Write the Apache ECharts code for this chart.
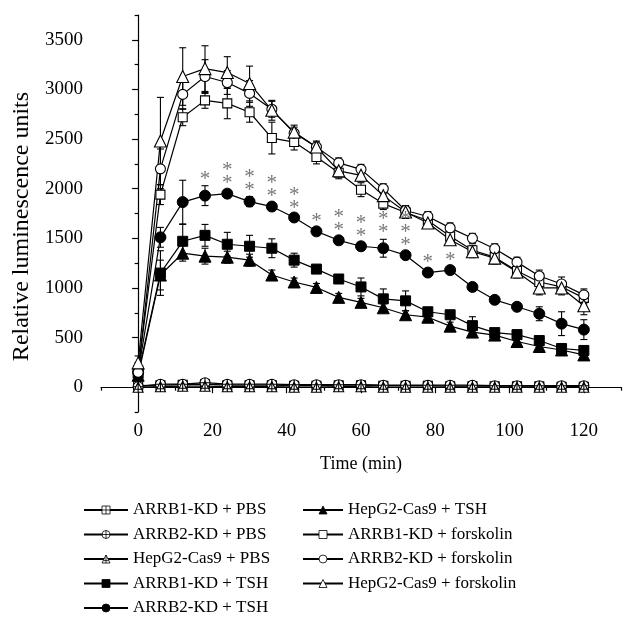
<!DOCTYPE html>
<html>
<head>
<meta charset="utf-8">
<script src="https://cdn.jsdelivr.net/npm/echarts@6/dist/echarts.min.js"></script>
<style>html,body{margin:0;padding:0;background:#fff}#c{width:627px;height:618px}</style>
</head>
<body>
<div id="c"></div>
<script>
const times = [0,6,12,18,24,30,36,42,48,54,60,66,72,78,84,90,96,102,108,114,120];
const xTickLabels = [0,20,40,60,80,100,120];
const yTickLabels = [0,500,1000,1500,2000,2500,3000,3500];

const arrb1Pbs = [15,20,25,30,20,20,20,15,15,20,20,15,15,15,10,10,10,10,10,5,5];
const arrb2Pbs = [5,30,30,45,30,30,30,25,25,25,25,20,20,20,20,20,15,15,15,15,15];
const hepPbs   = [0,5,10,10,5,5,5,0,0,5,5,0,0,0,0,0,0,0,0,0,0];
const arrb1Tsh = [140,1150,1470,1530,1440,1420,1400,1280,1190,1090,1010,890,870,760,730,620,550,530,470,390,370];
const arrb2Tsh = [150,1510,1865,1930,1950,1870,1820,1710,1570,1480,1420,1400,1330,1155,1180,1010,880,810,740,640,580];
const hepTsh   = [120,1130,1350,1320,1310,1280,1130,1060,1005,905,855,800,730,705,615,555,525,460,410,375,325];
const arrb1Fsk = [170,1940,2720,2890,2860,2770,2510,2470,2320,2160,1990,1850,1760,1680,1520,1380,1310,1170,1060,1010,900];
const arrb2Fsk = [150,2200,2950,3130,3070,2960,2800,2560,2420,2260,2195,2000,1780,1720,1605,1500,1395,1260,1120,1040,930];
const hepFsk   = [245,2480,3130,3210,3170,3060,2790,2570,2420,2180,2135,1930,1765,1655,1485,1365,1300,1160,1000,1000,820];

const errPbs      = [15,15,15,20,15,15,15,15,15,15,15,15,15,15,15,15,15,15,15,15,15];
const errArrb1Tsh = [30,225,170,110,120,110,95,70,30,30,90,100,100,30,30,90,40,40,30,40,40];
const errArrb2Tsh = [30,100,220,100,40,50,40,30,30,30,30,90,30,40,30,30,30,30,70,120,100];
const errHepTsh   = [30,150,80,80,60,60,50,40,40,40,40,40,40,40,40,40,30,30,40,40,50];
const errArrb1Fsk = [40,100,85,80,155,100,160,80,70,60,70,60,60,50,50,50,40,50,50,60,60];
const errArrb2Fsk = [50,200,150,170,120,130,80,60,50,50,50,50,50,50,50,50,50,50,60,70,60];
const errHepFsk   = [70,440,290,230,160,175,100,70,60,60,60,60,50,50,50,60,60,60,70,70,90];

const starTimes  = [18,24,30,36,42,48,54,60,66,72,78,84];
const starCounts = [1,2,2,2,2,1,2,2,2,3,1,1];

const FONT = '"Liberation Serif", "Times New Roman", serif';
const SYM_SQ_PLUS = 'path://M0,0H10V10H0Z M5,0V10 M0,5H10';
const SYM_CI_PLUS = 'path://M10,5A5,5 0 1 1 0,5A5,5 0 1 1 10,5Z M5,0V10 M0,5H10';
const SYM_TR_PLUS = 'path://M5,0L10,10H0Z M5,0V10 M2,7H8';

const defs = [
  {name:'ARRB1-KD + PBS', v:arrb1Pbs, e:errPbs, sym:SYM_SQ_PLUS, size:9, filled:false, z:3},
  {name:'ARRB2-KD + PBS', v:arrb2Pbs, e:errPbs, sym:SYM_CI_PLUS, size:10, filled:false, z:3},
  {name:'HepG2-Cas9 + PBS', v:hepPbs, e:errPbs, sym:SYM_TR_PLUS, size:10, filled:false, z:3},
  {name:'ARRB1-KD + TSH', v:arrb1Tsh, e:errArrb1Tsh, sym:'rect', size:10, filled:true, z:4},
  {name:'ARRB2-KD + TSH', v:arrb2Tsh, e:errArrb2Tsh, sym:'circle', size:11, filled:true, z:4},
  {name:'HepG2-Cas9 + TSH', v:hepTsh, e:errHepTsh, sym:'triangle', size:12, filled:true, z:4},
  {name:'ARRB1-KD + forskolin', v:arrb1Fsk, e:errArrb1Fsk, sym:'rect', size:9, filled:false, z:5},
  {name:'ARRB2-KD + forskolin', v:arrb2Fsk, e:errArrb2Fsk, sym:'circle', size:10, filled:false, z:5},
  {name:'HepG2-Cas9 + forskolin', v:hepFsk, e:errHepFsk, sym:'triangle', size:12, filled:false, z:5}
];

function errRender(params, api) {
  const x = api.value(0), y = api.value(1), e = api.value(2);
  const top = api.coord([x, y + e]);
  const bot = api.coord([x, y - e]);
  const w = 3.5;
  const st = {stroke:'#000', lineWidth:1.1};
  return {type:'group', children:[
    {type:'line', shape:{x1:top[0], y1:top[1], x2:bot[0], y2:bot[1]}, style:st},
    {type:'line', shape:{x1:top[0]-w, y1:top[1], x2:top[0]+w, y2:top[1]}, style:st},
    {type:'line', shape:{x1:bot[0]-w, y1:bot[1], x2:bot[0]+w, y2:bot[1]}, style:st}
  ]};
}

const series = [];
defs.forEach(d => {
  series.push({
    type:'custom', renderItem: errRender, silent:true, z:d.z - 0.5,
    encode:{x:0, y:1},
    data: times.map((t,i) => [t, d.v[i], d.e[i]])
  });
});
defs.forEach(d => {
  series.push({
    name: d.name, type:'line', z:d.z,
    symbol: d.sym, symbolSize: d.size, showSymbol:true,
    lineStyle:{color:'#000', width:1.2},
    itemStyle: d.filled ? {color:'#000', borderColor:'#000', borderWidth:1} : {color:'#fff', borderColor:'#000', borderWidth:1.1},
    data: times.map((t,i) => [t, d.v[i]])
  });
});
series.push({
  type:'scatter', symbolSize:0, silent:true, z:6,
  data: starTimes.map((t, k) => {
    const i = times.indexOf(t);
    return {value:[t, arrb2Tsh[i] + errArrb2Tsh[i]], cnt: starCounts[k]};
  }),
  label:{show:true, position:'top', distance:0,
    formatter: p => Array(p.data.cnt).fill('*').join('\n'),
    fontFamily: FONT, fontSize:21, lineHeight:13, color:'#555'}
});

const axisLineStyle = {color:'#000', width:1.2};
const option = {
  animation:false,
  backgroundColor:'#fff',
  grid:{left:101, right:6, top:15, bottom:206, containLabel:false},
  xAxis:[
    {type:'value', min:-10, max:130,
     axisLine:{show:true, lineStyle:axisLineStyle},
     axisTick:{show:true, length:6, lineStyle:axisLineStyle, customValues:xTickLabels},
     axisLabel:{customValues:xTickLabels, fontFamily:FONT, fontSize:19, color:'#000', margin:10,
       formatter: v => String(v)},
     splitLine:{show:false},
     name:'Time (min)', nameLocation:'middle', nameGap:43,
     nameTextStyle:{fontFamily:FONT, fontSize:18, color:'#000'}},
    {type:'value', min:-10, max:130, position:'bottom',
     axisLine:{show:false},
     axisTick:{show:true, length:3.5, lineStyle:axisLineStyle, customValues:[-10,10,30,50,70,90,110,130]},
     axisLabel:{show:false}, splitLine:{show:false}}
  ],
  yAxis:[
    {type:'value', min:-250, max:3750,
     axisLine:{show:true, lineStyle:axisLineStyle},
     axisTick:{show:true, length:6, lineStyle:axisLineStyle, customValues:yTickLabels},
     axisLabel:{customValues:yTickLabels, fontFamily:FONT, fontSize:19, color:'#000', margin:18,
       formatter: v => String(v)},
     splitLine:{show:false},
     name:'Relative luminescence units', nameLocation:'middle', nameGap:67,
     nameTextStyle:{fontFamily:FONT, fontSize:24, color:'#000', padding:[0,26,0,0]}},
    {type:'value', min:-250, max:3750, position:'left',
     axisLine:{show:false},
     axisTick:{show:true, length:3.5, lineStyle:axisLineStyle, customValues:[-250,250,750,1250,1750,2250,2750,3250,3750]},
     axisLabel:{show:false}, splitLine:{show:false}}
  ],
  legend:[
    {left:83, top:500, height:118, padding:0, orient:'vertical', itemWidth:44, itemHeight:10, itemGap:4.5,
     selectedMode:false, itemStyle:{borderWidth:0.8},
     data: defs.slice(0,5).map(d => d.name),
     textStyle:{fontFamily:FONT, fontSize:17, color:'#000', lineHeight:20}},
    {left:302, top:500, height:118, padding:0, orient:'vertical', itemWidth:40, itemHeight:10, itemGap:4.5,
     selectedMode:false, itemStyle:{borderWidth:0.8},
     data: defs.slice(5).map(d => d.name),
     textStyle:{fontFamily:FONT, fontSize:17, color:'#000', lineHeight:20}}
  ],
  series: series
};
const chart = echarts.init(document.getElementById('c'), null, {renderer:'canvas'});
chart.setOption(option);
</script>
</body>
</html>
